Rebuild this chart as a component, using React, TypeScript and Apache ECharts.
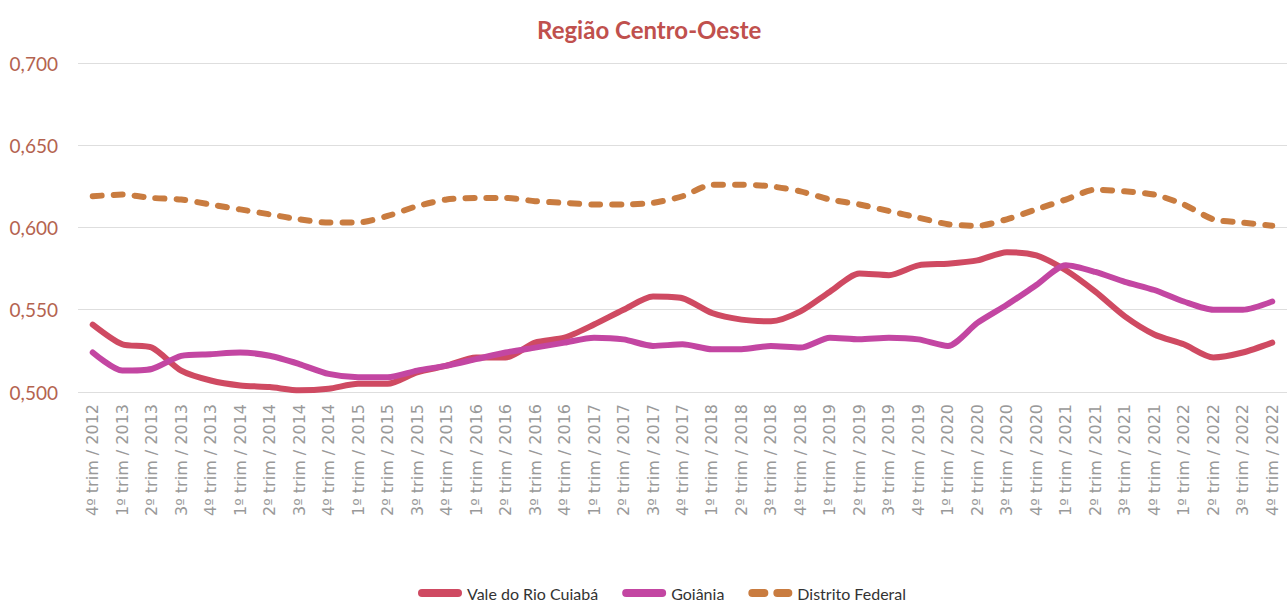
import React, { useEffect, useRef } from "react";
import * as echarts from "echarts";

const categories: string[] = [
  "4º trim / 2012",
  "1º trim / 2013", "2º trim / 2013", "3º trim / 2013", "4º trim / 2013",
  "1º trim / 2014", "2º trim / 2014", "3º trim / 2014", "4º trim / 2014",
  "1º trim / 2015", "2º trim / 2015", "3º trim / 2015", "4º trim / 2015",
  "1º trim / 2016", "2º trim / 2016", "3º trim / 2016", "4º trim / 2016",
  "1º trim / 2017", "2º trim / 2017", "3º trim / 2017", "4º trim / 2017",
  "1º trim / 2018", "2º trim / 2018", "3º trim / 2018", "4º trim / 2018",
  "1º trim / 2019", "2º trim / 2019", "3º trim / 2019", "4º trim / 2019",
  "1º trim / 2020", "2º trim / 2020", "3º trim / 2020", "4º trim / 2020",
  "1º trim / 2021", "2º trim / 2021", "3º trim / 2021", "4º trim / 2021",
  "1º trim / 2022", "2º trim / 2022", "3º trim / 2022", "4º trim / 2022",
];

const valeRioCuiaba: number[] = [
  0.541, 0.529, 0.527, 0.513, 0.507, 0.504, 0.503, 0.501, 0.502, 0.505,
  0.505, 0.512, 0.516, 0.521, 0.521, 0.530, 0.533, 0.541, 0.550, 0.558,
  0.557, 0.548, 0.544, 0.543, 0.549, 0.561, 0.572, 0.571, 0.577, 0.578,
  0.580, 0.585, 0.583, 0.574, 0.561, 0.546, 0.535, 0.529, 0.521, 0.524,
  0.530,
];

const goiania: number[] = [
  0.524, 0.513, 0.514, 0.522, 0.523, 0.524, 0.522, 0.517, 0.511, 0.509,
  0.509, 0.513, 0.516, 0.520, 0.524, 0.527, 0.530, 0.533, 0.532, 0.528,
  0.529, 0.526, 0.526, 0.528, 0.527, 0.533, 0.532, 0.533, 0.532, 0.528,
  0.542, 0.553, 0.565, 0.577, 0.573, 0.567, 0.562, 0.555, 0.550, 0.550,
  0.555,
];

const distritoFederal: number[] = [
  0.619, 0.620, 0.618, 0.617, 0.614, 0.611, 0.608, 0.605, 0.603, 0.603,
  0.607, 0.613, 0.617, 0.618, 0.618, 0.616, 0.615, 0.614, 0.614, 0.615,
  0.619, 0.626, 0.626, 0.625, 0.622, 0.617, 0.614, 0.610, 0.606, 0.602,
  0.601, 0.605, 0.611, 0.617, 0.623, 0.622, 0.620, 0.614, 0.605, 0.603,
  0.601,
];

const seriesNames = ["Vale do Rio Cuiabá", "Goiânia", "Distrito Federal"];

const pillIcon = "path://M4,0H40A4,4 0 0 1 40,8H4A4,4 0 0 1 4,0Z";
const dashIcon =
  "path://M4,0H16A4,4 0 0 1 16,8H4A4,4 0 0 1 4,0ZM29,0H40A4,4 0 0 1 40,8H29A4,4 0 0 1 29,0Z";

export default function App() {
  const ref = useRef<HTMLDivElement>(null);

  useEffect(() => {
    if (!ref.current) return;
    const chart = echarts.init(ref.current, undefined, { renderer: "svg" });
    const mk = (name: string, data: number[], color: string, dashed: boolean) => ({
      name,
      type: "line",
      data,
      smooth: 0.25,
      showSymbol: false,
      symbol: "none",
      itemStyle: { color },
      lineStyle: {
        color,
        width: 6,
        type: dashed ? [9, 12] : "solid",
        cap: "round",
        join: "round",
      },
    });
    chart.setOption({
      animation: false,
      backgroundColor: "#ffffff",
      title: {
        text: "Região Centro-Oeste",
        left: 532,
        top: 12,
        textStyle: {
          fontFamily: "Lato",
          fontSize: 24,
          fontWeight: "bold",
          color: "#C0504D",
        },
      },
      grid: { left: 78, top: 63, width: 1217, height: 329, containLabel: false },
      legend: {
        top: 580,
        left: 413,
        itemWidth: 44,
        itemHeight: 8,
        itemGap: 24,
        textStyle: { fontFamily: "Lato", fontSize: 16, color: "#333" },
        data: [
          { name: seriesNames[0], icon: pillIcon },
          { name: seriesNames[1], icon: pillIcon },
          { name: seriesNames[2], icon: dashIcon },
        ],
      },
      xAxis: {
        type: "category",
        data: categories,
        boundaryGap: true,
        axisLine: { show: false },
        axisTick: { show: false },
        axisLabel: {
          rotate: 90,
          interval: 0,
          margin: 12,
          fontFamily: "DejaVu Sans",
          fontSize: 16,
          color: "#999999",
        },
      },
      yAxis: {
        type: "value",
        min: 0.5,
        max: 0.7,
        interval: 0.05,
        axisLine: { show: false },
        axisTick: { show: false },
        splitLine: { lineStyle: { color: "#dedede", width: 1 } },
        axisLabel: {
          margin: 20,
          fontFamily: "Lato",
          fontSize: 19,
          color: "#B4634F",
          formatter: (v: number) => v.toFixed(3).replace(".", ","),
        },
      },
      series: [
        mk(seriesNames[0], valeRioCuiaba, "#CF4A62", false),
        mk(seriesNames[1], goiania, "#C346A2", false),
        mk(seriesNames[2], distritoFederal, "#C97C40", true),
      ],
    });
    return () => chart.dispose();
  }, []);

  return (
    <div
      ref={ref}
      style={{ position: "fixed", left: 0, top: 0, width: 1287, height: 602, background: "#fff" }}
    />
  );
}
